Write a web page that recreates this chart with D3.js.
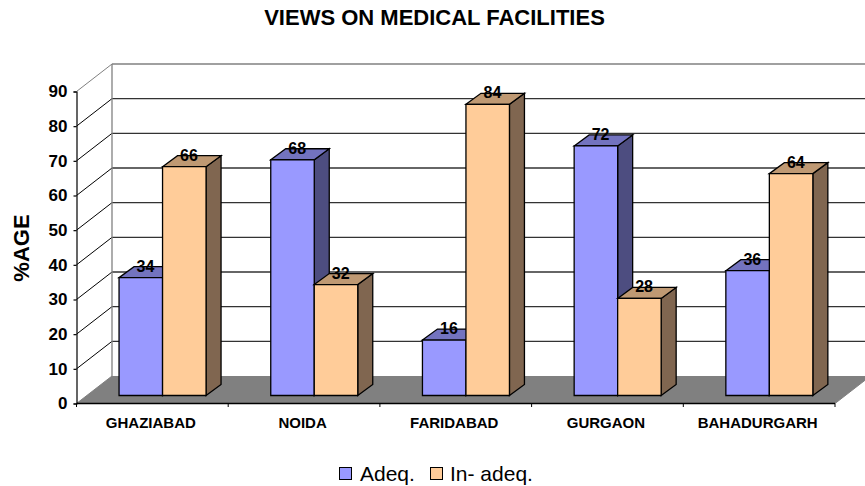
<!DOCTYPE html>
<html><head><meta charset="utf-8">
<style>html,body{margin:0;padding:0;background:#fff}svg{display:block}text{font-family:"Liberation Sans",Arial,sans-serif;fill:#000}</style>
<script src="https://d3js.org/d3.v7.min.js"></script></head><body>
<script>
const categories=["GHAZIABAD","NOIDA","FARIDABAD","GURGAON","BAHADURGARH"];
const adeq=[34,68,16,72,36];
const inadeq=[66,32,84,28,64];
const seriesNames=["Adeq.","In- adeq."];
const ticks=[0,10,20,30,40,50,60,70,80,90];
const W=865,H=486;
const svg=d3.select("body").append("svg").attr("width",W).attr("height",H);
const y=d3.scaleLinear().domain([0,90]).range([403.5,91.5]);
const x=d3.scaleBand().domain(categories).range([76.5,835]);
const dxB=35.5,dyB=-27.5; // wall depth
const dx=15,dy=-11;       // bar depth
const baseOffY=-8;
const barW=43.5;
function line(x1,y1,x2,y2,c,w){svg.append("line").attr("x1",x1).attr("y1",y1).attr("x2",x2).attr("y2",y2).attr("stroke",c).attr("stroke-width",w);}
function poly(pts,f){svg.append("polygon").attr("points",pts.map(p=>p.join(",")).join(" ")).attr("fill",f).attr("stroke","#000").attr("stroke-width",1.3).attr("stroke-linejoin","miter");}
// floor
svg.append("polygon").attr("points",[[76.5,403.5],[835,403.5],[835+dxB,376],[76.5+dxB,376]].map(p=>p.join(",")).join(" ")).attr("fill","#808080");
// walls
ticks.forEach(t=>{
  const c=t===90?"#808080":"#000";
  if(t>0){
    line(76.5+dxB,y(t)+dyB,W,y(t)+dyB,t===90?"#808080":"#333",1.3);
    line(76.5,y(t),76.5+dxB,y(t)+dyB,c,1);
  }
});
line(76.5+dxB,y(0)+dyB,76.5+dxB,y(90)+dyB,"#808080",1.3);
line(76.5,y(0),76.5+dxB,y(0)+dyB,"#808080",1);
line(835,y(0),835+dxB,y(0)+dyB,"#808080",1);
// bars
function bar(v,x0,front,top,side){
  const yB=y(0)+baseOffY, yT=yB-(y(0)-y(v));
  poly([[x0+barW,yB],[x0+barW+dx,yB+dy],[x0+barW+dx,yT+dy],[x0+barW,yT]],side);
  poly([[x0,yT],[x0+dx,yT+dy],[x0+barW+dx,yT+dy],[x0+barW,yT]],top);
  poly([[x0,yB],[x0+barW,yB],[x0+barW,yT],[x0,yT]],front);
  return yT;
}
const labels=[];
categories.forEach((c,i)=>{
  const x0=x(c)+x.bandwidth()/2-barW+10.2;
  const a=bar(adeq[i],x0,"#9999ff","#7373bf","#4d4d80");
  const b=bar(inadeq[i],x0+barW,"#ffcc99","#bf9973","#806650");
  labels.push([x0+barW/2+4.7,a,adeq[i]],[x0+barW*1.5+4.7,b,inadeq[i]]);
});
labels.forEach(l=>svg.append("text").attr("x",l[0]).attr("y",l[1]-6).attr("text-anchor","middle").attr("font-size",16).attr("font-weight","bold").text(l[2]));
// axes
const yAxis=d3.axisLeft(y).tickValues(ticks).tickSize(3).tickPadding(6);
const gy=svg.append("g").attr("transform","translate(76.5,0)").call(yAxis);
gy.selectAll("path,line").attr("stroke","#000").attr("stroke-width",1.2);
gy.selectAll("text").attr("font-size",17).attr("font-weight","bold").attr("font-family","'Liberation Sans',Arial,sans-serif").attr("fill","#000");
const xAxis=d3.axisBottom(x).tickSize(0).tickPadding(10);
const gx=svg.append("g").attr("transform","translate(0,403.5)").call(xAxis);
gx.select("path").remove();
gx.selectAll("text").attr("font-size",15).attr("font-weight","bold").attr("font-family","'Liberation Sans',Arial,sans-serif").attr("fill","#000").attr("dx",-1.5).attr("dy","0.95em");
line(76.5,403.5,835,403.5,"#000",1.6);
d3.range(6).forEach(i=>{const px=76.5+i*x.step();line(px,403.5,px,407,"#000",1);});
// title
svg.append("text").attr("x",434.5).attr("y",25).attr("text-anchor","middle").attr("font-size",22).attr("font-weight","bold").text("VIEWS ON MEDICAL FACILITIES");
svg.append("text").attr("transform","translate(29,248) rotate(-90)").attr("text-anchor","middle").attr("font-size",22).attr("font-weight","bold").text("%AGE");
// legend
[[339,"#9999ff",360,0],[430,"#ffcc99",450,1]].forEach(l=>{
  svg.append("rect").attr("x",l[0]+.5).attr("y",467.5).attr("width",12).attr("height",12).attr("fill",l[1]).attr("stroke","#000");
  svg.append("text").attr("x",l[2]).attr("y",481).attr("font-size",21).text(seriesNames[l[3]]);
});
</script></body></html>
